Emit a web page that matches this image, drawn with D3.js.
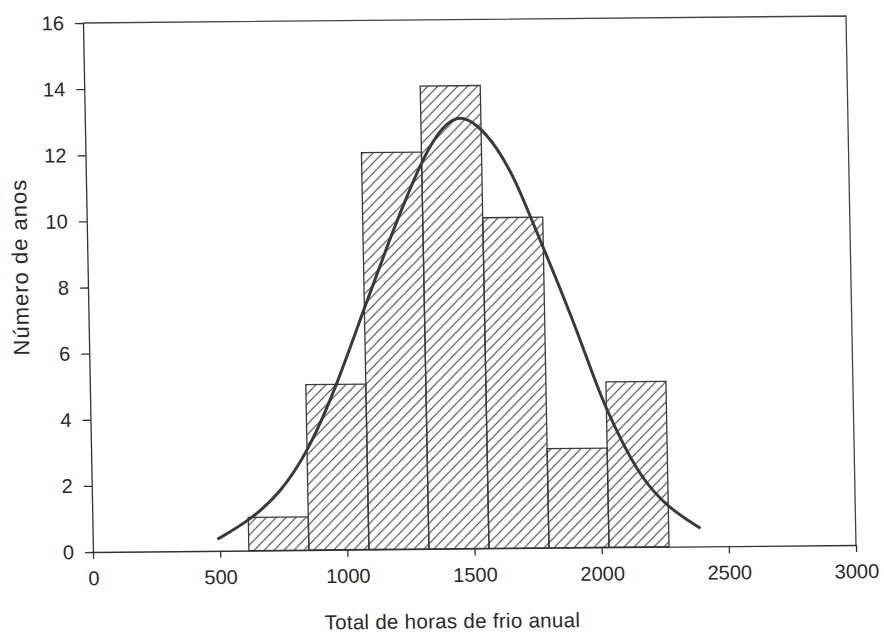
<!DOCTYPE html>
<html>
<head>
<meta charset="utf-8">
<script src="https://cdn.jsdelivr.net/npm/d3@7"></script>
<style>
  body { margin: 0; background: #fff; }
  text { font-family: "Liberation Sans", Arial, sans-serif; fill: #2a2a2a; }
  .axis path, .axis line { stroke: #333; stroke-width: 1.3; }
</style>
</head>
<body>
<div id="vis-container"></div>
<script>
// histogram bins (hours) and counts (years)
const binEdges = [613, 849, 1085, 1321, 1557, 1793, 2029, 2265];
const counts = [1, 5, 12, 14, 10, 3, 5];

// fitted curve
const curveX = [490, 620, 740, 855, 970, 1087, 1191, 1259, 1321, 1382, 1462,
                1540, 1617, 1690, 1740, 1787, 1868, 1931, 2005, 2080, 2156, 2259, 2390];
const curveY = [0.35, 0.92, 1.72, 3.0, 4.95, 7.35, 9.4, 10.65, 11.7, 12.55, 13.15,
                12.85, 12.15, 11.1, 10.1, 9.2, 7.6, 6.3, 4.6, 3.3, 2.15, 1.2, 0.55];

const xTicks = [0, 500, 1000, 1500, 2000, 2500, 3000];
const yTicks = [0, 2, 4, 6, 8, 10, 12, 14, 16];

let width = 884;
let height = 632;
let margins = { top: 19.5, right: 33, bottom: 83.5, left: 88 };
let visWidth = width - margins.left - margins.right;
let visHeight = height - margins.top - margins.bottom;

let svg = d3.select("#vis-container").append("svg")
    .attr("width", width).attr("height", height);

// hatch pattern
let pat = svg.append("defs").append("pattern")
    .attr("id", "hatch").attr("patternUnits", "userSpaceOnUse")
    .attr("width", 10).attr("height", 10);
pat.append("path")
    .attr("d", "M-1,1 l2,-2 M0,10 l10,-10 M9,11 l2,-2")
    .attr("stroke", "#333").attr("stroke-width", 1);

// the scan is slightly skewed
let page = svg.append("g")
    .attr("transform", "matrix(1,-0.0092,0.0189,1,-5.39,4.32)");

let viewport = page.append("g")
    .attr("transform", "translate(" + margins.left + "," + margins.top + ")");

let xScale = d3.scaleLinear().domain([0, 3000]).range([0, visWidth]);
let yScale = d3.scaleLinear().domain([0, 16]).range([visHeight, 0]);

let bins = counts.map((c, i) => ({ x0: binEdges[i], x1: binEdges[i + 1], n: c }));

viewport.append("g").selectAll("rect")
    .data(bins).enter().append("rect")
    .attr("x", d => xScale(d.x0))
    .attr("y", d => yScale(d.n))
    .attr("width", d => xScale(d.x1) - xScale(d.x0))
    .attr("height", d => yScale(0) - yScale(d.n))
    .attr("fill", "url(#hatch)")
    .attr("stroke", "#3a3a3a").attr("stroke-width", 1.3);

let curveData = curveX.map((x, i) => ({ x: x, y: curveY[i] }));
let line = d3.line()
    .x(d => xScale(d.x))
    .y(d => yScale(d.y))
    .curve(d3.curveBasis);

viewport.append("path")
    .attr("d", line(curveData))
    .attr("fill", "none")
    .attr("stroke", "#3a3a3a")
    .attr("stroke-width", 3);

// frame
viewport.append("path")
    .attr("d", "M0,0H" + visWidth + "V" + visHeight)
    .attr("fill", "none").attr("stroke", "#444").attr("stroke-width", 1.3);

// axes
viewport.append("g")
    .attr("class", "x axis")
    .attr("transform", "translate(0," + visHeight + ")")
    .call(d3.axisBottom(xScale).tickValues(xTicks).tickFormat(d3.format("d"))
        .tickSizeInner(7).tickSizeOuter(0).tickPadding(12))
    .call(g => g.selectAll("text").style("font-size", "20px"));

viewport.append("g")
    .attr("class", "y axis")
    .call(d3.axisLeft(yScale).tickValues(yTicks)
        .tickSizeInner(8).tickSizeOuter(0).tickPadding(11))
    .call(g => g.selectAll("text").style("font-size", "20px"));

viewport.selectAll(".axis .domain").attr("stroke", "#333");
viewport.selectAll("text").attr("fill", "#2a2a2a").attr("font-family", null);

// titles
page.append("text")
    .attr("transform", "translate(28,263) rotate(-90)")
    .attr("text-anchor", "middle")
    .style("font-size", "22px")
    .style("letter-spacing", "1px")
    .text("Número de anos");

page.append("text")
    .attr("x", 446).attr("y", 628)
    .attr("text-anchor", "middle")
    .style("font-size", "20.5px")
    .style("letter-spacing", "0.3px")
    .text("Total de horas de frio anual");
</script>
</body>
</html>
